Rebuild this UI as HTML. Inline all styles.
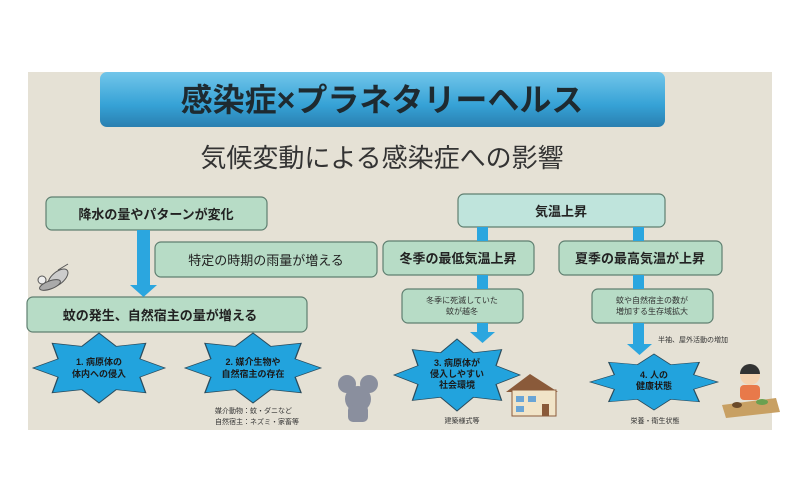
<!DOCTYPE html>
<html><head><meta charset="utf-8"><style>
body{margin:0;background:#fff;width:800px;height:504px;overflow:hidden}
svg{display:block}
text{font-family:"Liberation Sans","Noto Sans CJK JP",sans-serif}
</style></head><body>
<svg width="800" height="504" viewBox="0 0 800 504">
<defs>
<linearGradient id="tg" x1="0" y1="0" x2="0" y2="1">
<stop offset="0" stop-color="#72c6ea"/><stop offset="0.6" stop-color="#36a2d6"/><stop offset="1" stop-color="#2a7fb0"/>
</linearGradient>
<polygon id="star" points="1,0 0.62,0.26 0.707,0.707 0.26,0.62 0,1 -0.26,0.62 -0.707,0.707 -0.62,0.26 -1,0 -0.62,-0.26 -0.707,-0.707 -0.26,-0.62 0,-1 0.26,-0.62 0.707,-0.707 0.62,-0.26"/>
</defs>
<rect x="28" y="72" width="744" height="358" fill="#e5e1d5"/>
<rect x="100" y="72" width="565" height="55" rx="7" fill="url(#tg)"/>
<text x="382" y="111" text-anchor="middle" font-size="32" font-weight="bold" fill="#1e2a30">感染症×プラネタリーヘルス</text>
<text x="382" y="167" text-anchor="middle" font-size="26" fill="#333">気候変動による感染症への影響</text>

<g fill="#b7dcc6" stroke="#5f7f70" stroke-width="1.2">
<rect x="46" y="197" width="221" height="33" rx="6"/>
<rect x="155" y="242" width="222" height="35" rx="6"/>
<rect x="27" y="297" width="280" height="35" rx="6"/>
<rect x="458" y="194" width="207" height="33" rx="6" fill="#bfe4dc"/>
<rect x="383" y="241" width="151" height="34" rx="6"/>
<rect x="559" y="241" width="163" height="34" rx="6"/>
<rect x="402" y="289" width="121" height="34" rx="6"/>
<rect x="592" y="289" width="121" height="34" rx="6"/>
</g>
<g fill="#2ba6df">
<rect x="137" y="230" width="13" height="57"/>
<polygon points="130,285 157,285 143.5,297"/>
<rect x="477" y="227" width="11" height="14"/>
<rect x="633" y="227" width="11" height="14"/>
<rect x="477" y="275" width="11" height="14"/>
<rect x="633" y="275" width="11" height="14"/>
<rect x="477" y="323" width="11" height="10"/>
<polygon points="470,332 495,332 482.5,343"/>
<rect x="633" y="323" width="11" height="22"/>
<polygon points="627,344 652,344 639.5,355"/>
</g>
<g fill="#22a3dd" stroke="#2a4b5c">
<use href="#star" transform="translate(99,368) scale(66,35)" stroke-width="0.02"/>
<use href="#star" transform="translate(253,368) scale(68,35)" stroke-width="0.02"/>
<use href="#star" transform="translate(457,375) scale(63,36)" stroke-width="0.02"/>
<use href="#star" transform="translate(654,382) scale(64,28)" stroke-width="0.02"/>
</g>
<g font-size="13" font-weight="bold" fill="#222" text-anchor="middle">
<text x="156" y="219">降水の量やパターンが変化</text>
<text x="266" y="265" font-weight="normal">特定の時期の雨量が増える</text>
<text x="160" y="320">蚊の発生、自然宿主の量が増える</text>
<text x="561" y="216">気温上昇</text>
<text x="458" y="263">冬季の最低気温上昇</text>
<text x="640" y="263">夏季の最高気温が上昇</text>
</g>
<g font-size="8" fill="#333" text-anchor="middle">
<text x="462" y="303">冬季に死滅していた</text>
<text x="462" y="314">蚊が越冬</text>
<text x="652" y="303">蚊や自然宿主の数が</text>
<text x="652" y="314">増加する生存域拡大</text>
</g>
<g font-size="9" font-weight="bold" fill="#1a1a1a" text-anchor="middle">
<text x="99" y="365">1. 病原体の</text>
<text x="99" y="377">体内への侵入</text>
<text x="253" y="365">2. 媒介生物や</text>
<text x="253" y="377">自然宿主の存在</text>
<text x="457" y="366">3. 病原体が</text>
<text x="457" y="377">侵入しやすい</text>
<text x="457" y="388">社会環境</text>
<text x="654" y="378">4. 人の</text>
<text x="654" y="389">健康状態</text>
</g>
<g font-size="7" fill="#333">
<text x="215" y="413">媒介動物：蚊・ダニなど</text>
<text x="215" y="424">自然宿主：ネズミ・家畜等</text>
<text x="658" y="342">半袖、屋外活動の増加</text>
<text x="462" y="423" text-anchor="middle">建築様式等</text>
<text x="655" y="423" text-anchor="middle">栄養・衛生状態</text>
</g>
<!-- mouse -->
<g fill="#8a8f9e">
<circle cx="347" cy="384" r="9"/><circle cx="369" cy="384" r="9"/>
<ellipse cx="358" cy="399" rx="13" ry="13"/>
<rect x="348" y="405" width="20" height="17" rx="5"/>
</g>
<!-- mosquito -->
<g stroke="#555" fill="#aaa" stroke-width="1">
<ellipse cx="58" cy="278" rx="12" ry="6" transform="rotate(-40 58 278)" fill="#ccc"/>
<ellipse cx="50" cy="285" rx="11" ry="4" transform="rotate(-20 50 285)"/>
<circle cx="42" cy="280" r="4" fill="#eee"/>
<line x1="58" y1="270" x2="68" y2="264"/>
</g>
<!-- house -->
<g>
<polygon points="506,392 530,374 558,392" fill="#8a5a3a"/>
<rect x="512" y="390" width="44" height="26" fill="#f1e4c8" stroke="#8a5a3a"/>
<rect x="516" y="396" width="8" height="6" fill="#6aa5d6"/>
<rect x="528" y="396" width="8" height="6" fill="#6aa5d6"/>
<rect x="516" y="406" width="8" height="6" fill="#6aa5d6"/>
<rect x="542" y="404" width="7" height="12" fill="#8a5a3a"/>
</g>
<!-- girl -->
<g>
<circle cx="750" cy="375" r="10" fill="#f4d2b0"/>
<path d="M740,374 a10,10 0 0 1 20,0 z" fill="#333"/>
<rect x="740" y="385" width="20" height="15" rx="4" fill="#e8794a"/>
<polygon points="722,405 776,398 780,412 726,418" fill="#c8a063"/>
<ellipse cx="737" cy="405" rx="5" ry="3" fill="#6b4a2a"/>
<ellipse cx="762" cy="402" rx="6" ry="3" fill="#6aa050"/>
</g>
</svg>
</body></html>
